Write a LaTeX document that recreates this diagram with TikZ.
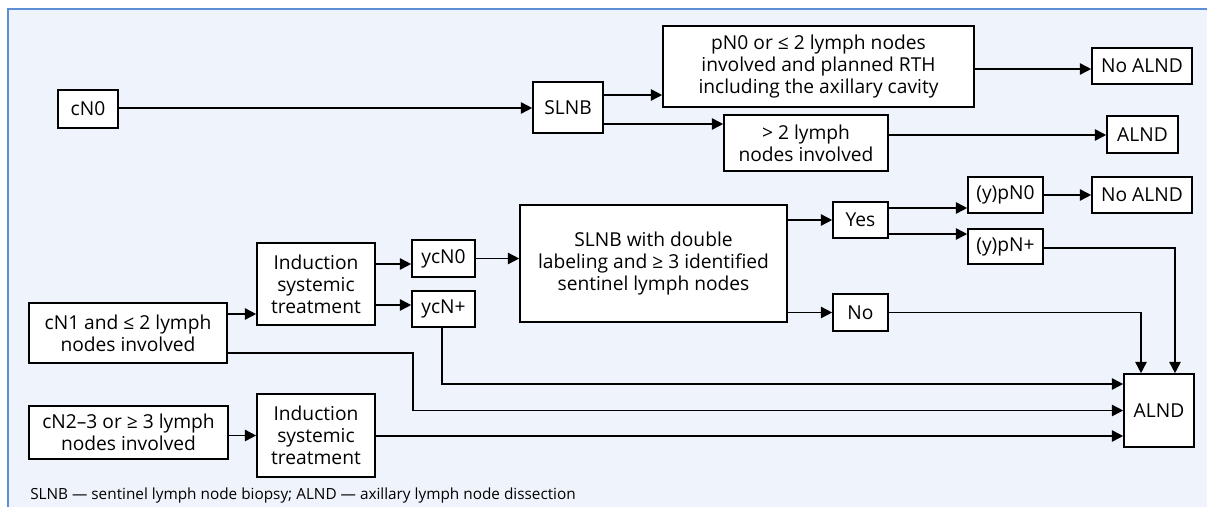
\documentclass[tikz,border=0pt]{standalone}
\usepackage{fontspec}
\setmainfont{Open Sans}
\usetikzlibrary{arrows.meta,calc}
\newdimen\px
\px=0.75pt
\definecolor{panel}{HTML}{EFF3FB}
\definecolor{rule}{HTML}{5E8FD4}
\tikzset{
  box/.style={draw=black, fill=white, line width=1.2pt, inner sep=0pt,
    align=center, font=\fontsize{14.4}{16.4}\selectfont},
  arr/.style={line width=1.2pt, -{Triangle[length=8.5pt,width=8.5pt]}}
}
\begin{document}
\begin{tikzpicture}[x=0.75pt,y=-0.75pt]
% page and panel
\fill[white] (0,0) rectangle (1207,507);
\useasboundingbox (0,0) rectangle (1207,507);
\fill[panel] (8,9) rectangle (1207,507);
\draw[rule, line width=1.6pt] (8,507) -- (8,9) -- (1207,9);

% cN0 branch
\node[box, minimum width=60\px, minimum height=38\px] (cn0) at (88,109) {cN0};
\node[box, minimum width=70\px, minimum height=51\px] (slnb) at (568,107.5) {SLNB};
\node[box, minimum width=311\px, minimum height=81\px] (pn0) at (818.5,66.5)
  {pN0 or ≤ 2 lymph nodes\\involved and planned RTH\\including the axillary cavity};
\node[box, minimum width=164\px, minimum height=56\px] (gt2) at (806,143)
  {> 2 lymph\\nodes involved};
\node[box, minimum width=100\px, minimum height=36\px] (noalnda) at (1142,66) {No ALND};
\node[box, minimum width=71\px, minimum height=37\px] (alnda) at (1142.5,134.5) {ALND};

% cN1 branch
\node[box, minimum width=198\px, minimum height=60\px] (cn1) at (128,333)
  {cN1 and ≤ 2 lymph\\nodes involved};
\node[box, minimum width=118\px, minimum height=82\px] (inda) at (316,284)
  {Induction\\systemic\\treatment};
\node[box, minimum width=63\px, minimum height=37\px] (ycn0) at (443.5,258.5) {ycN0};
\node[box, minimum width=63\px, minimum height=36\px] (ycnp) at (443.5,309) {ycN+};
\node[box, minimum width=267\px, minimum height=117\px] (slnbd) at (653.5,263.5)
  {SLNB with double\\labeling and ≥ 3 identified\\sentinel lymph nodes};
\node[box, minimum width=55\px, minimum height=36\px] (yes) at (860.5,220) {Yes};
\node[box, minimum width=55\px, minimum height=37\px] (no) at (860.5,312.5) {No};
\node[box, minimum width=75\px, minimum height=36\px] (ypn0) at (1005.5,195) {(y)pN0};
\node[box, minimum width=75\px, minimum height=35\px] (ypnp) at (1005.5,246.5) {(y)pN+};
\node[box, minimum width=100\px, minimum height=36\px] (noalndb) at (1142,195) {No ALND};
\node[box, minimum width=70\px, minimum height=73\px] (alndb) at (1159,410.5) {ALND};

% cN2-3 branch
\node[box, minimum width=199\px, minimum height=53\px] (cn23) at (128.5,432.5)
  {cN2–3 or ≥ 3 lymph\\nodes involved};
\node[box, minimum width=118\px, minimum height=83\px] (indb) at (316,435.5)
  {Induction\\systemic\\treatment};

% footnote
\node[anchor=base west, inner sep=0pt, font=\fontsize{11.5}{13}\selectfont] (note) at (30,499)
  {SLNB — sentinel lymph node biopsy; ALND — axillary lymph node dissection};

% connectors, upper part
\draw[arr] ($(cn0.east)+(0,-1)$) coordinate (a1) -- (a1 -| slnb.west);
\draw[arr] ($(slnb.east)+(0,-12.5)$) coordinate (a2) -- (a2 -| pn0.west);
\draw[arr] ($(slnb.east)+(0,16.5)$) coordinate (a3) -- (a3 -| gt2.west);
\draw[arr] ($(pn0.east)+(0,2.5)$) coordinate (a4) -- (a4 -| noalnda.west);
\draw[arr] ($(gt2.east)+(0,-8)$) coordinate (a5) -- (a5 -| alnda.west);

% connectors, cN1 part
\draw[arr] ($(cn1.east)+(0,-19)$) coordinate (b1) -- (b1 -| inda.west);
\draw[arr] ($(inda.east)+(0,-20)$) coordinate (b2) -- (b2 -| ycn0.west);
\draw[arr] ($(inda.east)+(0,21)$) coordinate (b3) -- (b3 -| ycnp.west);
\draw[arr] (ycn0.east) -- (ycn0.east -| slnbd.west);
\draw[arr] (yes.west -| slnbd.east) -- (yes.west);
\draw[arr] (no.west -| slnbd.east) -- (no.west);
\draw[arr] ($(yes.east)+(0,-12)$) coordinate (b4) -- (b4 -| ypn0.west);
\draw[arr] ($(yes.east)+(0,14)$) coordinate (b5) -- (b5 -| ypnp.west);
\draw[arr] (ypn0.east) -- (ypn0.east -| noalndb.west);
\draw[arr] ($(ypnp.east)+(0,1.5)$) -| ($(alndb.north)+(16,0)$);
\draw[arr] (no.east) -| ($(alndb.north)+(-18,0)$);
\draw[arr] ($(ycnp.south)+(-1.5,0)$) |- ($(alndb.west)+(0,-26.5)$);
\draw[arr] ($(cn1.east)+(0,20)$) -- ++(185,0) |- (alndb.west);

% connectors, cN2-3 part
\draw[arr] (indb.west -| cn23.east) -- (indb.west);
\draw[arr] ($(indb.east)+(0,0.5)$) coordinate (c1) -- (c1 -| alndb.west);
\end{tikzpicture}
\end{document}
